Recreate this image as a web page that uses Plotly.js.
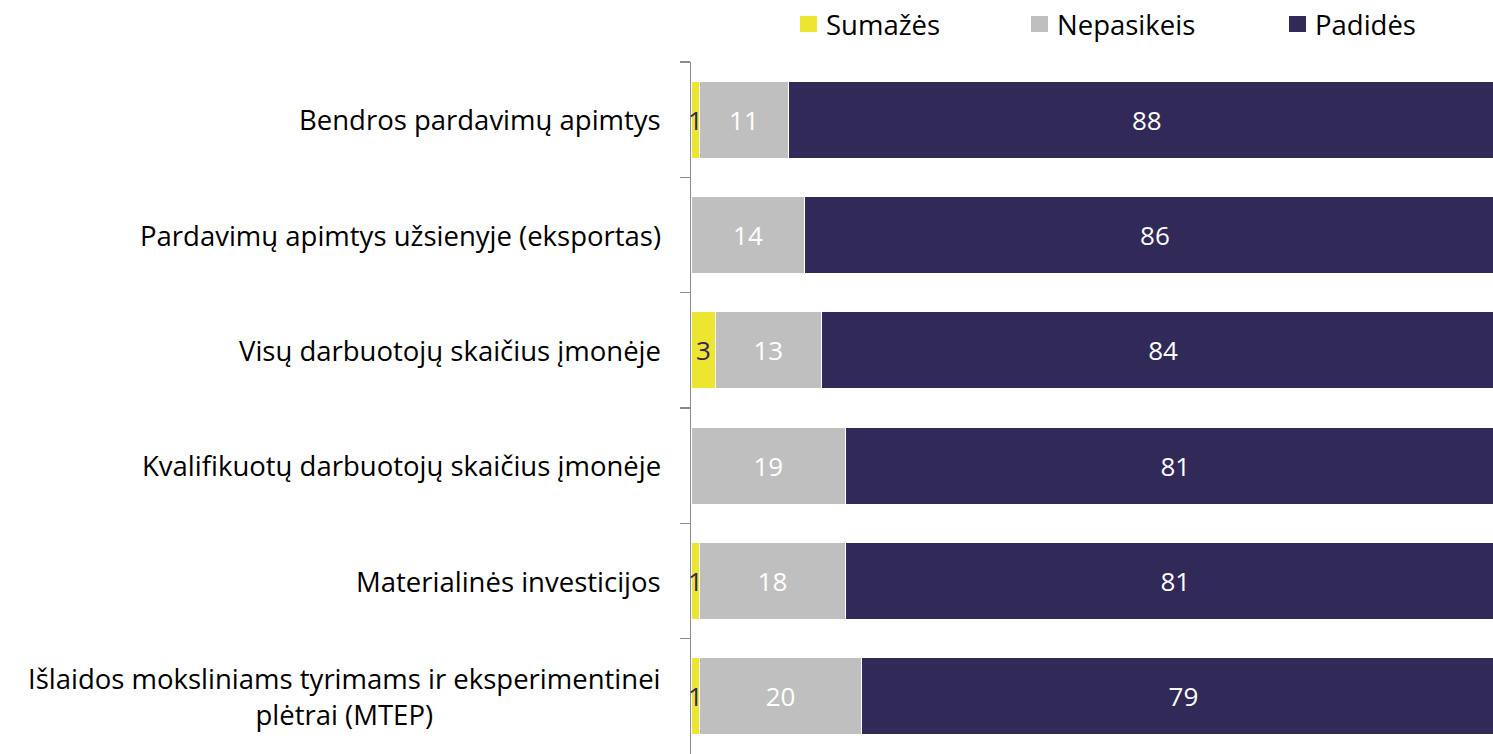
<!DOCTYPE html>
<html>
<head>
<meta charset="utf-8">
<script src="https://cdn.plot.ly/plotly-3.0.1.min.js"></script>
<style>html,body{margin:0;padding:0;background:#fff;overflow:hidden;}#chart{width:1505px;height:754px;}</style>
</head>
<body>
<div id="chart"></div>
<script>
const categories = [
  "Bendros pardavimų apimtys",
  "Pardavimų apimtys užsienyje (eksportas)",
  "Visų darbuotojų skaičius įmonėje",
  "Kvalifikuotų darbuotojų skaičius įmonėje",
  "Materialinės investicijos",
  "Išlaidos moksliniams tyrimams ir eksperimentinei<br>plėtrai (MTEP)"
];
const seriesNames = ["Sumažės", "Nepasikeis", "Padidės"];
const sumazes = [1, 0, 3, 0, 1, 1];
const nepasikeis = [11, 14, 13, 19, 18, 20];
const padides = [88, 86, 84, 81, 81, 79];

const FONT = "'Open Sans', sans-serif";
const FS = 27.5;
const cYellow = "#ede631", cGray = "#bfbfbf", cDark = "#312958";
const colors = [cYellow, cGray, cDark];

function barTrace(name, vals, color, showText, textColor) {
  return {
    type: "bar", orientation: "h", name: name,
    y: categories, x: vals,
    marker: {color: color, line: {color: "#ffffff", width: 1}},
    text: showText ? vals.map(v => v > 0 ? String(v) : "") : undefined,
    textposition: showText ? "inside" : "none",
    insidetextanchor: "middle",
    textfont: {family: FONT, size: 26, color: textColor},
    constraintext: "none",
    hoverinfo: "x+name"
  };
}

const traces = [
  barTrace(seriesNames[0], sumazes, cYellow, false, cDark),
  barTrace(seriesNames[1], nepasikeis, cGray, true, "#ffffff"),
  barTrace(seriesNames[2], padides, cDark, true, "#ffffff")
];

const annotations = [];
sumazes.forEach((v, i) => {
  if (v > 0) annotations.push({
    x: v / 2, y: categories[i], xref: "x", yref: "y",
    text: String(v), showarrow: false,
    font: {family: FONT, size: 26, color: cDark}
  });
});
categories.forEach((c, i) => {
  annotations.push({
    x: 0, y: c, xref: "paper", yref: "y", xanchor: "right",
    xshift: -28, align: "center",
    text: c, showarrow: false,
    font: {family: FONT, size: FS, color: "#000000"}
  });
});

// manual legend (pixel positions converted to paper coords)
const W = 1505, PL = 691, PW = 814, PT = 62, PH = 692;
const px2x = p => (p - PL) / PW;
const py2y = p => (PT + PH - p) / PH;
const legSquareX = [800, 1031, 1289];
const shapes = [];
seriesNames.forEach((n, i) => {
  shapes.push({
    type: "rect", xref: "paper", yref: "paper",
    x0: px2x(legSquareX[i]), x1: px2x(legSquareX[i] + 17),
    y0: py2y(32), y1: py2y(16),
    fillcolor: colors[i], line: {width: 0}
  });
  annotations.push({
    xref: "paper", yref: "paper", x: px2x(legSquareX[i] + 24), y: py2y(24),
    xanchor: "left", yanchor: "middle", text: n, showarrow: false,
    font: {family: FONT, size: FS, color: "#000"}
  });
});

const layout = {
  width: W, height: 754,
  margin: {l: PL, r: W - PL - PW, t: PT, b: 0},
  paper_bgcolor: "#fff", plot_bgcolor: "#fff",
  barmode: "stack", bargap: 0.33,
  showlegend: false,
  xaxis: {range: [0, 100], visible: false, fixedrange: true},
  yaxis: {
    type: "category", autorange: "reversed",
    showline: true, linecolor: "#8c8c8c", linewidth: 1.5,
    ticks: "outside", ticklen: 10, tickcolor: "#8c8c8c", tickwidth: 1.5,
    tickson: "boundaries", showticklabels: false, showgrid: false, zeroline: false
  },
  shapes: shapes,
  annotations: annotations
};

Plotly.newPlot("chart", traces, layout, {displayModeBar: false, staticPlot: true});
</script>
</body>
</html>
